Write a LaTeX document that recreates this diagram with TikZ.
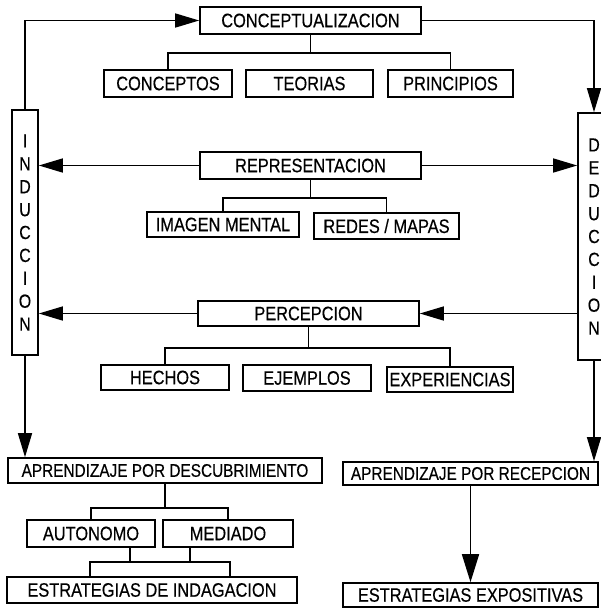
\documentclass[tikz,border=0pt]{standalone}
\usepackage{fontspec}
\setmainfont{Liberation Sans}[FakeStretch=0.84,FakeBold=0.4]
\usetikzlibrary{arrows.meta,calc}
\begin{document}
\begin{tikzpicture}[x=1pt,y=-1pt,
  box/.style={draw,line width=1.6pt,rectangle,inner sep=0pt,font=\fontsize{19.5}{22}\selectfont},
  smallbox/.style={box,font=\fontsize{18.3}{22}\selectfont},
  col/.style={box,align=center,font=\fontsize{19}{22.9}\selectfont},
  ln/.style={line width=1.4pt},
  arr/.style={line width=1.4pt,-{Triangle[length=24pt,width=14pt]}},
  bigarr/.style={line width=1.7pt,-{Triangle[length=28pt,width=17pt]}}
  ]
\useasboundingbox (0,0) rectangle (601,608);
\clip (0,0) rectangle (601,608);
% top level
\node[box,minimum width=221pt,minimum height=27pt] (concept) at (310.5,20.5) {CONCEPTUALIZACION};
\node[box,minimum width=128pt,minimum height=27pt] (conceptos) at (168,83.5) {CONCEPTOS};
\node[box,minimum width=127pt,minimum height=27pt] (teorias) at (309.5,83.5) {TEORIAS};
\node[box,minimum width=125pt,minimum height=27pt] (principios) at (450.5,83.5) {PRINCIPIOS};
% side columns
\node[col,minimum width=26pt,minimum height=245pt] (ind) at (25,232.5) {I\\N\\D\\U\\C\\C\\I\\O\\N};
\node[col,minimum width=32pt,minimum height=247pt] (ded) at (594,236.5) {D\\E\\D\\U\\C\\C\\I\\O\\N};
% representacion
\node[box,minimum width=221pt,minimum height=27pt] (rep) at (310.5,165.5) {REPRESENTACION};
\node[box,minimum width=152pt,minimum height=25pt] (imagen) at (223,224.5) {IMAGEN MENTAL};
\node[box,minimum width=145pt,minimum height=26pt] (redes) at (386.5,226) {REDES / MAPAS};
% percepcion
\node[box,minimum width=221pt,minimum height=25pt] (perc) at (308.5,313.5) {PERCEPCION};
\node[box,minimum width=128pt,minimum height=25pt] (hechos) at (165,377.5) {HECHOS};
\node[box,minimum width=128pt,minimum height=26pt] (ejemplos) at (307,378) {EJEMPLOS};
\node[box,minimum width=126pt,minimum height=25pt] (exper) at (450,379.5) {EXPERIENCIAS};
% bottom left
\node[smallbox,minimum width=314pt,minimum height=25pt] (desc) at (165,470.5) {APRENDIZAJE POR DESCUBRIMIENTO};
\node[box,minimum width=128pt,minimum height=27pt] (auto) at (91,533.5) {AUTONOMO};
\node[box,minimum width=130pt,minimum height=27pt] (medi) at (228,533.5) {MEDIADO};
\node[box,minimum width=290pt,minimum height=26pt] (estind) at (152,590) {ESTRATEGIAS DE INDAGACION};
% bottom right
\node[smallbox,minimum width=255pt,minimum height=23pt] (rec) at (470.5,473.5) {APRENDIZAJE POR RECEPCION};
\node[box,minimum width=255pt,minimum height=24pt] (estexp) at (470.5,595) {ESTRATEGIAS EXPOSITIVAS};

% trees
\draw[ln] (concept.south) -- ++(0,18) coordinate (c1);
\draw[ln] (conceptos.north) |- (c1) -| (principios.north);
\draw[ln] (rep.south) -- ++(0,18) coordinate (r1);
\draw[ln] (imagen.north) |- (r1) -| (redes.north);
\draw[ln] (perc.south) -- ++(0,21) coordinate (p1);
\draw[ln] (hechos.north) |- (p1) -| (exper.north);
\draw[ln] (desc.south) -- ++(0,24) coordinate (d1);
\draw[ln] (auto.north) |- (d1) -| (medi.north);
\coordinate (j1) at (90,562);
\coordinate (j2) at (230,562);
\draw[ln] ($(auto.south)+(39,0)$) -- ++(0,15);
\draw[ln] ($(medi.south)+(-38,0)$) -- ++(0,15);
\draw[ln] (j1 |- estind.north) -- (j1) -- (j2) -- (j2 |- estind.north);

% arrows
\draw[arr] (ind.north) |- (concept.west);
\draw[arr] (concept.east) -| (ded.north);
\draw[arr] (rep.west) -- (rep.west -| ind.east);
\draw[arr] (rep.east) -- (rep.east -| ded.west);
\draw[arr] (perc.west) -- (perc.west -| ind.east);
\draw[arr] (perc.east -| ded.west) -- (perc.east);
\draw[arr] (ind.south) -- (ind.south |- desc.north);
\draw[arr] (ded.south) -- (ded.south |- rec.north);
\draw[bigarr] (rec.south) -- (estexp.north);
\end{tikzpicture}
\end{document}
